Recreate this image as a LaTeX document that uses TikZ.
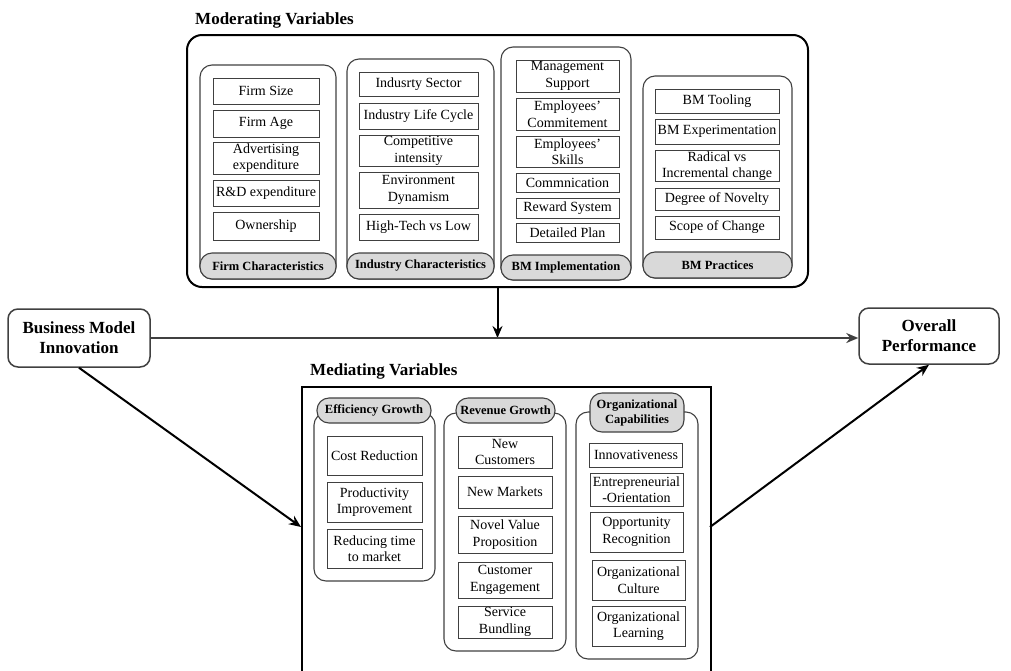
\documentclass[tikz,border=0pt]{standalone}
\usepackage{fontspec}
\setmainfont{Liberation Serif}
\usetikzlibrary{arrows.meta}
\usetikzlibrary{positioning}
\definecolor{capgray}{RGB}{217,217,217}
\definecolor{linegray}{RGB}{64,64,64}

\tikzset{
  item/.style={draw=linegray, line width=0.8pt, align=center, inner sep=1pt,
    font=\fontsize{14}{16.5}\selectfont},
  groupframe/.style={draw=linegray, line width=1.1pt, rounded corners=12pt},
  capbox/.style={draw=linegray, line width=1.1pt, fill=capgray, rounded corners=12pt,
    align=center, inner sep=1pt, font=\bfseries\fontsize{12.5}{15}\selectfont},
  factor/.style={draw=linegray, line width=1.5pt, rounded corners=10pt, align=center,
    font=\bfseries\fontsize{17}{20}\selectfont},
  vartitle/.style={anchor=base west, inner sep=0pt, font=\bfseries\fontsize{17}{20}\selectfont}
}

\begin{document}
\begin{tikzpicture}[x=1pt, y=-1pt, >={Stealth[length=12pt,width=10pt]}]
\useasboundingbox (0,0) rectangle (1011,670);

\node[factor, minimum width=142pt, minimum height=58pt] (bmi) at (79,338) {Business Model\\Innovation};
\node[factor, minimum width=140pt, minimum height=56pt] (perf) at (929,336) {Overall\\Performance};

% moderating variables
\node[vartitle] (mod-title) at (195,24) {Moderating Variables};
\node[draw, line width=2pt, rounded corners=15pt, minimum width=621pt, minimum height=252pt] (mod) at (497.5,161) {};

\draw[groupframe] (200,65) rectangle (336,279);
\foreach \t/\y/\h [count=\i] in {Firm Size/91/26, Firm Age/123.5/27, {Advertising\\expenditure}/158/32,
    R\&D expenditure/193/26, Ownership/226/28}
  \node[item, minimum width=106pt, minimum height=\h pt] (firm-\i) at (266,\y) {\t};
\node[capbox, minimum width=136pt, minimum height=26pt] (firm-cap) at (268,266) {Firm Characteristics};

\draw[groupframe] (347,59) rectangle (494,279);
\foreach \t/\y/\h [count=\i] in {Indusrty Sector/84/24, Industry Life Cycle/116/26, {Competitive\\intensity}/151/30,
    {Environment\\Dynamism}/190/36, High-Tech vs Low/227/26}
  \node[item, minimum width=119pt, minimum height=\h pt] (ind-\i) at (418.5,\y) {\t};
\node[capbox, minimum width=147pt, minimum height=26pt] (ind-cap) at (420.5,266) {Industry Characteristics};

\draw[groupframe] (501,47) rectangle (631,280);
\foreach \t/\y/\h [count=\i] in {{Management\\Support}/76/32, {Employees’\\Commitement}/114/32, {Employees’\\Skills}/151.5/31,
    Commnication/182.5/19, Reward System/208/20, Detailed Plan/232.5/19}
  \node[item, minimum width=103pt, minimum height=\h pt] (impl-\i) at (567.5,\y) {\t};
\node[capbox, minimum width=130pt, minimum height=25pt] (impl-cap) at (566,267.5) {BM Implementation};

\draw[groupframe] (643,76) rectangle (792,278);
\foreach \t/\y/\h [count=\i] in {BM Tooling/101/24, BM Experimentation/131.5/25, {Radical vs\\Incremental change}/166/30,
    Degree of Novelty/199/22, Scope of Change/227.5/23}
  \node[item, minimum width=124pt, minimum height=\h pt] (prac-\i) at (717,\y) {\t};
\node[capbox, minimum width=149pt, minimum height=26pt] (prac-cap) at (717.5,265) {BM Practices};

\draw[->, line width=2pt] (mod.south) -- (mod.south |- bmi.east);
\draw[->, line width=2pt, draw=linegray] (bmi.east) -- (bmi.east -| perf.west);

% mediating variables
\node[vartitle] (med-title) at (310,375) {Mediating Variables};
\node[draw, line width=1.6pt, minimum width=409pt, minimum height=310pt, anchor=north west] (med) at (301,386) {};

\draw[groupframe] (314,413) rectangle (435,581);
\foreach \t/\y/\h [count=\i] in {Cost Reduction/455.5/39, {Productivity\\Improvement}/502/40, {Reducing time\\to market}/548.5/39}
  \node[item, minimum width=95pt, minimum height=\h pt] (eff-\i) at (374.5,\y) {\t};
\node[capbox, minimum width=114pt, minimum height=25pt] (eff-cap) at (374,410.5) {Efficiency Growth};

\draw[groupframe] (444,413) rectangle (566,651);
\foreach \t/\y/\h [count=\i] in {{New\\Customers}/452/32, New Markets/492/32, {Novel Value\\Proposition}/534.5/37,
    {Customer\\Engagement}/580/36, {Service\\Bundling}/622/32}
  \node[item, minimum width=94pt, minimum height=\h pt] (rev-\i) at (505,\y) {\t};
\node[capbox, minimum width=99pt, minimum height=25pt] (rev-cap) at (505.5,410.5) {Revenue Growth};

\draw[groupframe] (576,412) rectangle (698,659);
\foreach \t/\x/\y/\h [count=\i] in {Innovativeness/636/455/24, {Entrepreneurial\\-Orientation}/636.5/489.5/33,
    {Opportunity\\Recognition}/636.5/532/40, {Organizational\\Culture}/638.5/580/40, {Organizational\\Learning}/638.5/626/40}
  \node[item, minimum width=93pt, minimum height=\h pt] (org-\i) at (\x,\y) {\t};
\node[capbox, minimum width=94pt, minimum height=39pt] (org-cap) at (637,412.5) {Organizational\\Capabilities};

\coordinate (med-in) at (301,527);
\coordinate (med-out) at (710,527);
\draw[->, line width=2pt] (bmi.south) -- (med-in);
\draw[->, line width=2pt] (med-out) -- (perf.south);

\end{tikzpicture}
\end{document}
